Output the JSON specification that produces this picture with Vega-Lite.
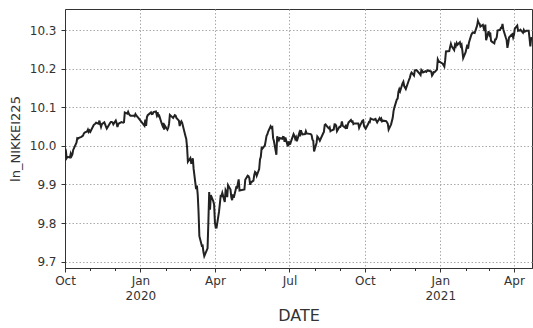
{
"$schema": "https://vega.github.io/schema/vega-lite/v6.json",
"width": 467, "height": 259,
"autosize": {"type": "none"},
"padding": {"left": 65, "top": 9, "right": 1, "bottom": 60},
"background": "white",
"config": {
  "view": {"stroke": "#333", "strokeWidth": 1},
  "axis": {"labelFont": "DejaVu Sans", "titleFont": "DejaVu Sans", "labelColor": "#333", "titleColor": "#333", "domainColor": "#333", "tickColor": "#333", "titleFontWeight": "normal", "labelFlush": false, "labelOverlap": false}
},
"data": {"values": [
{"date":"2019-10-01","ln_NIKKEI225":9.9936},{"date":"2019-10-02","ln_NIKKEI225":9.9887},{"date":"2019-10-03","ln_NIKKEI225":9.9684},{"date":"2019-10-04","ln_NIKKEI225":9.9716},{"date":"2019-10-07","ln_NIKKEI225":9.9700},{"date":"2019-10-08","ln_NIKKEI225":9.9799},{"date":"2019-10-09","ln_NIKKEI225":9.9737},{"date":"2019-10-10","ln_NIKKEI225":9.9782},{"date":"2019-10-11","ln_NIKKEI225":9.9896},{"date":"2019-10-15","ln_NIKKEI225":10.0082},{"date":"2019-10-16","ln_NIKKEI225":10.0201},{"date":"2019-10-17","ln_NIKKEI225":10.0191},{"date":"2019-10-18","ln_NIKKEI225":10.0209},{"date":"2019-10-21","ln_NIKKEI225":10.0234},{"date":"2019-10-23","ln_NIKKEI225":10.0267},{"date":"2019-10-24","ln_NIKKEI225":10.0323},{"date":"2019-10-25","ln_NIKKEI225":10.0345},{"date":"2019-10-28","ln_NIKKEI225":10.0375},{"date":"2019-10-29","ln_NIKKEI225":10.0422},{"date":"2019-10-30","ln_NIKKEI225":10.0364},{"date":"2019-10-31","ln_NIKKEI225":10.0401},
{"date":"2019-11-01","ln_NIKKEI225":10.0367},{"date":"2019-11-05","ln_NIKKEI225":10.0541},{"date":"2019-11-06","ln_NIKKEI225":10.0563},{"date":"2019-11-07","ln_NIKKEI225":10.0575},{"date":"2019-11-08","ln_NIKKEI225":10.0601},{"date":"2019-11-11","ln_NIKKEI225":10.0575},{"date":"2019-11-12","ln_NIKKEI225":10.0656},{"date":"2019-11-13","ln_NIKKEI225":10.0571},{"date":"2019-11-14","ln_NIKKEI225":10.0494},{"date":"2019-11-15","ln_NIKKEI225":10.0563},{"date":"2019-11-18","ln_NIKKEI225":10.0612},{"date":"2019-11-19","ln_NIKKEI225":10.0559},{"date":"2019-11-20","ln_NIKKEI225":10.0497},{"date":"2019-11-21","ln_NIKKEI225":10.0449},{"date":"2019-11-22","ln_NIKKEI225":10.0482},{"date":"2019-11-25","ln_NIKKEI225":10.0593},{"date":"2019-11-26","ln_NIKKEI225":10.0621},{"date":"2019-11-27","ln_NIKKEI225":10.0621},{"date":"2019-11-28","ln_NIKKEI225":10.0609},{"date":"2019-11-29","ln_NIKKEI225":10.0560},
{"date":"2019-12-02","ln_NIKKEI225":10.0660},{"date":"2019-12-03","ln_NIKKEI225":10.0596},{"date":"2019-12-04","ln_NIKKEI225":10.0491},{"date":"2019-12-05","ln_NIKKEI225":10.0562},{"date":"2019-12-06","ln_NIKKEI225":10.0585},{"date":"2019-12-09","ln_NIKKEI225":10.0618},{"date":"2019-12-10","ln_NIKKEI225":10.0609},{"date":"2019-12-11","ln_NIKKEI225":10.0601},{"date":"2019-12-12","ln_NIKKEI225":10.0616},{"date":"2019-12-13","ln_NIKKEI225":10.0868},{"date":"2019-12-16","ln_NIKKEI225":10.0838},{"date":"2019-12-17","ln_NIKKEI225":10.0886},{"date":"2019-12-18","ln_NIKKEI225":10.0831},{"date":"2019-12-19","ln_NIKKEI225":10.0801},{"date":"2019-12-20","ln_NIKKEI225":10.0781},{"date":"2019-12-23","ln_NIKKEI225":10.0783},{"date":"2019-12-24","ln_NIKKEI225":10.0787},{"date":"2019-12-25","ln_NIKKEI225":10.0767},{"date":"2019-12-26","ln_NIKKEI225":10.0827},{"date":"2019-12-27","ln_NIKKEI225":10.0790},{"date":"2019-12-30","ln_NIKKEI225":10.0714},
{"date":"2020-01-06","ln_NIKKEI225":10.0521},{"date":"2020-01-07","ln_NIKKEI225":10.0680},{"date":"2020-01-08","ln_NIKKEI225":10.0521},{"date":"2020-01-09","ln_NIKKEI225":10.0749},{"date":"2020-01-10","ln_NIKKEI225":10.0796},{"date":"2020-01-14","ln_NIKKEI225":10.0869},{"date":"2020-01-15","ln_NIKKEI225":10.0824},{"date":"2020-01-16","ln_NIKKEI225":10.0830},{"date":"2020-01-17","ln_NIKKEI225":10.0876},{"date":"2020-01-20","ln_NIKKEI225":10.0893},{"date":"2020-01-21","ln_NIKKEI225":10.0802},{"date":"2020-01-22","ln_NIKKEI225":10.0872},{"date":"2020-01-23","ln_NIKKEI225":10.0772},{"date":"2020-01-24","ln_NIKKEI225":10.0786},{"date":"2020-01-27","ln_NIKKEI225":10.0581},{"date":"2020-01-28","ln_NIKKEI225":10.0526},{"date":"2020-01-29","ln_NIKKEI225":10.0596},{"date":"2020-01-30","ln_NIKKEI225":10.0423},{"date":"2020-01-31","ln_NIKKEI225":10.0521},
{"date":"2020-02-03","ln_NIKKEI225":10.0420},{"date":"2020-02-04","ln_NIKKEI225":10.0470},{"date":"2020-02-05","ln_NIKKEI225":10.0571},{"date":"2020-02-06","ln_NIKKEI225":10.0806},{"date":"2020-02-07","ln_NIKKEI225":10.0786},{"date":"2020-02-10","ln_NIKKEI225":10.0726},{"date":"2020-02-12","ln_NIKKEI225":10.0800},{"date":"2020-02-13","ln_NIKKEI225":10.0786},{"date":"2020-02-14","ln_NIKKEI225":10.0727},{"date":"2020-02-17","ln_NIKKEI225":10.0657},{"date":"2020-02-18","ln_NIKKEI225":10.0516},{"date":"2020-02-19","ln_NIKKEI225":10.0605},{"date":"2020-02-20","ln_NIKKEI225":10.0638},{"date":"2020-02-21","ln_NIKKEI225":10.0599},{"date":"2020-02-25","ln_NIKKEI225":10.0259},{"date":"2020-02-26","ln_NIKKEI225":10.0180},{"date":"2020-02-27","ln_NIKKEI225":9.9965},{"date":"2020-02-28","ln_NIKKEI225":9.9591},
{"date":"2020-03-02","ln_NIKKEI225":9.9686},{"date":"2020-03-03","ln_NIKKEI225":9.9562},{"date":"2020-03-04","ln_NIKKEI225":9.9570},{"date":"2020-03-05","ln_NIKKEI225":9.9679},{"date":"2020-03-06","ln_NIKKEI225":9.9403},{"date":"2020-03-09","ln_NIKKEI225":9.8883},{"date":"2020-03-10","ln_NIKKEI225":9.8969},{"date":"2020-03-11","ln_NIKKEI225":9.8739},{"date":"2020-03-12","ln_NIKKEI225":9.8288},{"date":"2020-03-13","ln_NIKKEI225":9.7660},{"date":"2020-03-16","ln_NIKKEI225":9.7411},{"date":"2020-03-17","ln_NIKKEI225":9.7417},{"date":"2020-03-18","ln_NIKKEI225":9.7248},{"date":"2020-03-19","ln_NIKKEI225":9.7143},{"date":"2020-03-23","ln_NIKKEI225":9.7343},{"date":"2020-03-24","ln_NIKKEI225":9.8032},{"date":"2020-03-25","ln_NIKKEI225":9.8806},{"date":"2020-03-26","ln_NIKKEI225":9.8344},{"date":"2020-03-27","ln_NIKKEI225":9.8725},{"date":"2020-03-30","ln_NIKKEI225":9.8566},{"date":"2020-03-31","ln_NIKKEI225":9.8478},
{"date":"2020-04-01","ln_NIKKEI225":9.8018},{"date":"2020-04-02","ln_NIKKEI225":9.7880},{"date":"2020-04-03","ln_NIKKEI225":9.7881},{"date":"2020-04-06","ln_NIKKEI225":9.8296},{"date":"2020-04-07","ln_NIKKEI225":9.8496},{"date":"2020-04-08","ln_NIKKEI225":9.8706},{"date":"2020-04-09","ln_NIKKEI225":9.8702},{"date":"2020-04-10","ln_NIKKEI225":9.8781},{"date":"2020-04-13","ln_NIKKEI225":9.8545},{"date":"2020-04-14","ln_NIKKEI225":9.8853},{"date":"2020-04-15","ln_NIKKEI225":9.8808},{"date":"2020-04-16","ln_NIKKEI225":9.8674},{"date":"2020-04-17","ln_NIKKEI225":9.8984},{"date":"2020-04-20","ln_NIKKEI225":9.8868},{"date":"2020-04-21","ln_NIKKEI225":9.8669},{"date":"2020-04-22","ln_NIKKEI225":9.8594},{"date":"2020-04-23","ln_NIKKEI225":9.8746},{"date":"2020-04-24","ln_NIKKEI225":9.8659},{"date":"2020-04-27","ln_NIKKEI225":9.8927},{"date":"2020-04-28","ln_NIKKEI225":9.8920},{"date":"2020-04-30","ln_NIKKEI225":9.9131},
{"date":"2020-05-01","ln_NIKKEI225":9.8843},{"date":"2020-05-07","ln_NIKKEI225":9.8871},{"date":"2020-05-08","ln_NIKKEI225":9.9124},{"date":"2020-05-11","ln_NIKKEI225":9.9228},{"date":"2020-05-12","ln_NIKKEI225":9.9216},{"date":"2020-05-13","ln_NIKKEI225":9.9168},{"date":"2020-05-14","ln_NIKKEI225":9.8993},{"date":"2020-05-15","ln_NIKKEI225":9.9053},{"date":"2020-05-18","ln_NIKKEI225":9.9101},{"date":"2020-05-19","ln_NIKKEI225":9.9248},{"date":"2020-05-20","ln_NIKKEI225":9.9326},{"date":"2020-05-21","ln_NIKKEI225":9.9306},{"date":"2020-05-22","ln_NIKKEI225":9.9227},{"date":"2020-05-25","ln_NIKKEI225":9.9399},{"date":"2020-05-26","ln_NIKKEI225":9.9651},{"date":"2020-05-27","ln_NIKKEI225":9.9720},{"date":"2020-05-28","ln_NIKKEI225":9.9950},{"date":"2020-05-29","ln_NIKKEI225":9.9933},
{"date":"2020-06-01","ln_NIKKEI225":10.0017},{"date":"2020-06-02","ln_NIKKEI225":10.0136},{"date":"2020-06-03","ln_NIKKEI225":10.0264},{"date":"2020-06-04","ln_NIKKEI225":10.0300},{"date":"2020-06-05","ln_NIKKEI225":10.0374},{"date":"2020-06-08","ln_NIKKEI225":10.0510},{"date":"2020-06-09","ln_NIKKEI225":10.0472},{"date":"2020-06-10","ln_NIKKEI225":10.0487},{"date":"2020-06-11","ln_NIKKEI225":10.0201},{"date":"2020-06-12","ln_NIKKEI225":10.0126},{"date":"2020-06-15","ln_NIKKEI225":9.9772},{"date":"2020-06-16","ln_NIKKEI225":10.0250},{"date":"2020-06-17","ln_NIKKEI225":10.0194},{"date":"2020-06-18","ln_NIKKEI225":10.0149},{"date":"2020-06-19","ln_NIKKEI225":10.0204},{"date":"2020-06-22","ln_NIKKEI225":10.0185},{"date":"2020-06-23","ln_NIKKEI225":10.0235},{"date":"2020-06-24","ln_NIKKEI225":10.0229},{"date":"2020-06-25","ln_NIKKEI225":10.0106},{"date":"2020-06-26","ln_NIKKEI225":10.0218},{"date":"2020-06-29","ln_NIKKEI225":9.9986},{"date":"2020-06-30","ln_NIKKEI225":10.0118},
{"date":"2020-07-01","ln_NIKKEI225":10.0044},{"date":"2020-07-02","ln_NIKKEI225":10.0055},{"date":"2020-07-03","ln_NIKKEI225":10.0126},{"date":"2020-07-06","ln_NIKKEI225":10.0307},{"date":"2020-07-07","ln_NIKKEI225":10.0263},{"date":"2020-07-08","ln_NIKKEI225":10.0185},{"date":"2020-07-09","ln_NIKKEI225":10.0225},{"date":"2020-07-10","ln_NIKKEI225":10.0119},{"date":"2020-07-13","ln_NIKKEI225":10.0338},{"date":"2020-07-14","ln_NIKKEI225":10.0251},{"date":"2020-07-15","ln_NIKKEI225":10.0408},{"date":"2020-07-16","ln_NIKKEI225":10.0331},{"date":"2020-07-17","ln_NIKKEI225":10.0299},{"date":"2020-07-20","ln_NIKKEI225":10.0308},{"date":"2020-07-21","ln_NIKKEI225":10.0382},{"date":"2020-07-22","ln_NIKKEI225":10.0323},{"date":"2020-07-27","ln_NIKKEI225":10.0307},{"date":"2020-07-28","ln_NIKKEI225":10.0281},{"date":"2020-07-29","ln_NIKKEI225":10.0166},{"date":"2020-07-30","ln_NIKKEI225":10.0140},{"date":"2020-07-31","ln_NIKKEI225":9.9855},
{"date":"2020-08-03","ln_NIKKEI225":10.0077},{"date":"2020-08-04","ln_NIKKEI225":10.0245},{"date":"2020-08-05","ln_NIKKEI225":10.0219},{"date":"2020-08-06","ln_NIKKEI225":10.0176},{"date":"2020-08-07","ln_NIKKEI225":10.0137},{"date":"2020-08-11","ln_NIKKEI225":10.0323},{"date":"2020-08-12","ln_NIKKEI225":10.0364},{"date":"2020-08-13","ln_NIKKEI225":10.0541},{"date":"2020-08-14","ln_NIKKEI225":10.0558},{"date":"2020-08-17","ln_NIKKEI225":10.0475},{"date":"2020-08-18","ln_NIKKEI225":10.0455},{"date":"2020-08-19","ln_NIKKEI225":10.0481},{"date":"2020-08-20","ln_NIKKEI225":10.0381},{"date":"2020-08-21","ln_NIKKEI225":10.0398},{"date":"2020-08-24","ln_NIKKEI225":10.0427},{"date":"2020-08-25","ln_NIKKEI225":10.0561},{"date":"2020-08-26","ln_NIKKEI225":10.0558},{"date":"2020-08-27","ln_NIKKEI225":10.0523},{"date":"2020-08-28","ln_NIKKEI225":10.0382},{"date":"2020-08-31","ln_NIKKEI225":10.0494},
{"date":"2020-09-01","ln_NIKKEI225":10.0493},{"date":"2020-09-02","ln_NIKKEI225":10.0540},{"date":"2020-09-03","ln_NIKKEI225":10.0633},{"date":"2020-09-04","ln_NIKKEI225":10.0522},{"date":"2020-09-07","ln_NIKKEI225":10.0472},{"date":"2020-09-08","ln_NIKKEI225":10.0551},{"date":"2020-09-09","ln_NIKKEI225":10.0447},{"date":"2020-09-10","ln_NIKKEI225":10.0535},{"date":"2020-09-11","ln_NIKKEI225":10.0608},{"date":"2020-09-14","ln_NIKKEI225":10.0673},{"date":"2020-09-15","ln_NIKKEI225":10.0629},{"date":"2020-09-16","ln_NIKKEI225":10.0637},{"date":"2020-09-17","ln_NIKKEI225":10.0570},{"date":"2020-09-18","ln_NIKKEI225":10.0588},{"date":"2020-09-23","ln_NIKKEI225":10.0582},{"date":"2020-09-24","ln_NIKKEI225":10.0471},{"date":"2020-09-25","ln_NIKKEI225":10.0521},{"date":"2020-09-28","ln_NIKKEI225":10.0653},{"date":"2020-09-29","ln_NIKKEI225":10.0665},{"date":"2020-09-30","ln_NIKKEI225":10.0513},
{"date":"2020-10-02","ln_NIKKEI225":10.0446},{"date":"2020-10-05","ln_NIKKEI225":10.0568},{"date":"2020-10-06","ln_NIKKEI225":10.0620},{"date":"2020-10-07","ln_NIKKEI225":10.0615},{"date":"2020-10-08","ln_NIKKEI225":10.0710},{"date":"2020-10-09","ln_NIKKEI225":10.0699},{"date":"2020-10-12","ln_NIKKEI225":10.0673},{"date":"2020-10-13","ln_NIKKEI225":10.0691},{"date":"2020-10-14","ln_NIKKEI225":10.0702},{"date":"2020-10-15","ln_NIKKEI225":10.0651},{"date":"2020-10-16","ln_NIKKEI225":10.0610},{"date":"2020-10-19","ln_NIKKEI225":10.0721},{"date":"2020-10-20","ln_NIKKEI225":10.0676},{"date":"2020-10-21","ln_NIKKEI225":10.0707},{"date":"2020-10-22","ln_NIKKEI225":10.0637},{"date":"2020-10-23","ln_NIKKEI225":10.0655},{"date":"2020-10-26","ln_NIKKEI225":10.0646},{"date":"2020-10-27","ln_NIKKEI225":10.0642},{"date":"2020-10-28","ln_NIKKEI225":10.0614},{"date":"2020-10-29","ln_NIKKEI225":10.0576},{"date":"2020-10-30","ln_NIKKEI225":10.0423},
{"date":"2020-11-02","ln_NIKKEI225":10.0560},{"date":"2020-11-04","ln_NIKKEI225":10.0730},{"date":"2020-11-05","ln_NIKKEI225":10.0902},{"date":"2020-11-06","ln_NIKKEI225":10.0993},{"date":"2020-11-09","ln_NIKKEI225":10.1202},{"date":"2020-11-10","ln_NIKKEI225":10.1228},{"date":"2020-11-11","ln_NIKKEI225":10.1405},{"date":"2020-11-12","ln_NIKKEI225":10.1472},{"date":"2020-11-13","ln_NIKKEI225":10.1419},{"date":"2020-11-16","ln_NIKKEI225":10.1623},{"date":"2020-11-17","ln_NIKKEI225":10.1664},{"date":"2020-11-18","ln_NIKKEI225":10.1553},{"date":"2020-11-19","ln_NIKKEI225":10.1516},{"date":"2020-11-20","ln_NIKKEI225":10.1475},{"date":"2020-11-24","ln_NIKKEI225":10.1722},{"date":"2020-11-25","ln_NIKKEI225":10.1772},{"date":"2020-11-26","ln_NIKKEI225":10.1863},{"date":"2020-11-27","ln_NIKKEI225":10.1904},{"date":"2020-11-30","ln_NIKKEI225":10.1824},
{"date":"2020-12-01","ln_NIKKEI225":10.1957},{"date":"2020-12-02","ln_NIKKEI225":10.1962},{"date":"2020-12-03","ln_NIKKEI225":10.1965},{"date":"2020-12-04","ln_NIKKEI225":10.1943},{"date":"2020-12-07","ln_NIKKEI225":10.1867},{"date":"2020-12-08","ln_NIKKEI225":10.1838},{"date":"2020-12-09","ln_NIKKEI225":10.1968},{"date":"2020-12-10","ln_NIKKEI225":10.1945},{"date":"2020-12-11","ln_NIKKEI225":10.1906},{"date":"2020-12-14","ln_NIKKEI225":10.1936},{"date":"2020-12-15","ln_NIKKEI225":10.1920},{"date":"2020-12-16","ln_NIKKEI225":10.1945},{"date":"2020-12-17","ln_NIKKEI225":10.1964},{"date":"2020-12-18","ln_NIKKEI225":10.1948},{"date":"2020-12-21","ln_NIKKEI225":10.1929},{"date":"2020-12-22","ln_NIKKEI225":10.1825},{"date":"2020-12-23","ln_NIKKEI225":10.1859},{"date":"2020-12-24","ln_NIKKEI225":10.1912},{"date":"2020-12-25","ln_NIKKEI225":10.1909},{"date":"2020-12-28","ln_NIKKEI225":10.1982},{"date":"2020-12-29","ln_NIKKEI225":10.2244},{"date":"2020-12-30","ln_NIKKEI225":10.2199},
{"date":"2021-01-04","ln_NIKKEI225":10.2131},{"date":"2021-01-05","ln_NIKKEI225":10.2095},{"date":"2021-01-06","ln_NIKKEI225":10.2057},{"date":"2021-01-07","ln_NIKKEI225":10.2216},{"date":"2021-01-08","ln_NIKKEI225":10.2449},{"date":"2021-01-12","ln_NIKKEI225":10.2458},{"date":"2021-01-13","ln_NIKKEI225":10.2561},{"date":"2021-01-14","ln_NIKKEI225":10.2646},{"date":"2021-01-15","ln_NIKKEI225":10.2583},{"date":"2021-01-18","ln_NIKKEI225":10.2486},{"date":"2021-01-19","ln_NIKKEI225":10.2623},{"date":"2021-01-20","ln_NIKKEI225":10.2585},{"date":"2021-01-21","ln_NIKKEI225":10.2666},{"date":"2021-01-22","ln_NIKKEI225":10.2622},{"date":"2021-01-25","ln_NIKKEI225":10.2689},{"date":"2021-01-26","ln_NIKKEI225":10.2593},{"date":"2021-01-27","ln_NIKKEI225":10.2624},{"date":"2021-01-28","ln_NIKKEI225":10.2470},{"date":"2021-01-29","ln_NIKKEI225":10.2279},
{"date":"2021-02-01","ln_NIKKEI225":10.2432},{"date":"2021-02-02","ln_NIKKEI225":10.2528},{"date":"2021-02-03","ln_NIKKEI225":10.2627},{"date":"2021-02-04","ln_NIKKEI225":10.2521},{"date":"2021-02-05","ln_NIKKEI225":10.2674},{"date":"2021-02-08","ln_NIKKEI225":10.2883},{"date":"2021-02-09","ln_NIKKEI225":10.2923},{"date":"2021-02-10","ln_NIKKEI225":10.2942},{"date":"2021-02-12","ln_NIKKEI225":10.2928},{"date":"2021-02-15","ln_NIKKEI225":10.3118},{"date":"2021-02-16","ln_NIKKEI225":10.3244},{"date":"2021-02-17","ln_NIKKEI225":10.3186},{"date":"2021-02-18","ln_NIKKEI225":10.3168},{"date":"2021-02-19","ln_NIKKEI225":10.3096},{"date":"2021-02-22","ln_NIKKEI225":10.3141},{"date":"2021-02-24","ln_NIKKEI225":10.2979},{"date":"2021-02-25","ln_NIKKEI225":10.3145},{"date":"2021-02-26","ln_NIKKEI225":10.2738},
{"date":"2021-03-01","ln_NIKKEI225":10.2976},{"date":"2021-03-02","ln_NIKKEI225":10.2889},{"date":"2021-03-03","ln_NIKKEI225":10.2941},{"date":"2021-03-04","ln_NIKKEI225":10.2726},{"date":"2021-03-05","ln_NIKKEI225":10.2703},{"date":"2021-03-08","ln_NIKKEI225":10.2661},{"date":"2021-03-09","ln_NIKKEI225":10.2760},{"date":"2021-03-10","ln_NIKKEI225":10.2763},{"date":"2021-03-11","ln_NIKKEI225":10.2823},{"date":"2021-03-12","ln_NIKKEI225":10.2994},{"date":"2021-03-15","ln_NIKKEI225":10.3011},{"date":"2021-03-16","ln_NIKKEI225":10.3063},{"date":"2021-03-17","ln_NIKKEI225":10.3061},{"date":"2021-03-18","ln_NIKKEI225":10.3161},{"date":"2021-03-19","ln_NIKKEI225":10.3020},{"date":"2021-03-22","ln_NIKKEI225":10.2810},{"date":"2021-03-23","ln_NIKKEI225":10.2749},{"date":"2021-03-24","ln_NIKKEI225":10.2544},{"date":"2021-03-25","ln_NIKKEI225":10.2657},{"date":"2021-03-26","ln_NIKKEI225":10.2811},{"date":"2021-03-29","ln_NIKKEI225":10.2882},{"date":"2021-03-30","ln_NIKKEI225":10.2898},{"date":"2021-03-31","ln_NIKKEI225":10.2812},
{"date":"2021-04-01","ln_NIKKEI225":10.2883},{"date":"2021-04-02","ln_NIKKEI225":10.3040},{"date":"2021-04-05","ln_NIKKEI225":10.3119},{"date":"2021-04-06","ln_NIKKEI225":10.2988},{"date":"2021-04-07","ln_NIKKEI225":10.2999},{"date":"2021-04-08","ln_NIKKEI225":10.2992},{"date":"2021-04-09","ln_NIKKEI225":10.3012},{"date":"2021-04-12","ln_NIKKEI225":10.2934},{"date":"2021-04-13","ln_NIKKEI225":10.3006},{"date":"2021-04-14","ln_NIKKEI225":10.2962},{"date":"2021-04-15","ln_NIKKEI225":10.2969},{"date":"2021-04-16","ln_NIKKEI225":10.2983},{"date":"2021-04-19","ln_NIKKEI225":10.2984},{"date":"2021-04-20","ln_NIKKEI225":10.2785},{"date":"2021-04-21","ln_NIKKEI225":10.2579},{"date":"2021-04-22","ln_NIKKEI225":10.2815},{"date":"2021-04-23","ln_NIKKEI225":10.2758}
]},
"layer": [
  {
    "mark": {"type": "line", "color": "#222222", "strokeWidth": 2, "clip": true},
    "encoding": {
      "x": {
        "field": "date", "type": "temporal",
        "scale": {"type": "utc", "domain": [{"year": 2019, "month": 10, "date": 1, "utc": true}, {"year": 2021, "month": 4, "date": 23, "utc": true}]},
        "axis": {
          "orient": "bottom", "title": "DATE", "titleFontSize": 16, "titlePadding": 6,
          "labelFontSize": 12, "labelPadding": 3, "labelAngle": 0, "labelAlign": "center", "labelBaseline": "top", "labelLineHeight": 15,
          "tickSize": 4, "grid": true, "gridColor": "#aaaaaa", "gridDash": [1.5, 2], "gridWidth": 1,
          "values": [
            {"year": 2019, "month": 10, "date": 1, "utc": true},
            {"year": 2020, "month": 1, "date": 1, "utc": true},
            {"year": 2020, "month": 4, "date": 1, "utc": true},
            {"year": 2020, "month": 7, "date": 1, "utc": true},
            {"year": 2020, "month": 10, "date": 1, "utc": true},
            {"year": 2021, "month": 1, "date": 1, "utc": true},
            {"year": 2021, "month": 4, "date": 1, "utc": true}
          ],
          "labelExpr": "utcFormat(datum.value, '%m') == '01' ? [utcFormat(datum.value, '%b'), utcFormat(datum.value, '%Y')] : utcFormat(datum.value, '%b')"
        }
      },
      "y": {
        "field": "ln_NIKKEI225", "type": "quantitative",
        "scale": {"domain": [9.6835, 10.355], "nice": false, "zero": false},
        "axis": {
          "title": "ln_NIKKEI225", "titleFontSize": 13, "titlePadding": 7,
          "labelFontSize": 12, "labelPadding": 5, "tickSize": 4, "format": ".1f",
          "values": [9.7, 9.8, 9.9, 10.0, 10.1, 10.2, 10.3],
          "grid": true, "gridColor": "#aaaaaa", "gridDash": [1.5, 2], "gridWidth": 1
        }
      }
    }
  },
  {
    "mark": {"type": "rule", "opacity": 0},
    "encoding": {
      "x": {
        "field": "date", "type": "temporal",
        "axis": {
          "orient": "bottom", "title": null, "labels": false, "grid": false, "domain": false, "tickSize": 2.5,
          "values": [
            {"year": 2019, "month": 11, "date": 1, "utc": true},
            {"year": 2019, "month": 12, "date": 1, "utc": true},
            {"year": 2020, "month": 2, "date": 1, "utc": true},
            {"year": 2020, "month": 3, "date": 1, "utc": true},
            {"year": 2020, "month": 5, "date": 1, "utc": true},
            {"year": 2020, "month": 6, "date": 1, "utc": true},
            {"year": 2020, "month": 8, "date": 1, "utc": true},
            {"year": 2020, "month": 9, "date": 1, "utc": true},
            {"year": 2020, "month": 11, "date": 1, "utc": true},
            {"year": 2020, "month": 12, "date": 1, "utc": true},
            {"year": 2021, "month": 2, "date": 1, "utc": true},
            {"year": 2021, "month": 3, "date": 1, "utc": true}
          ]
        }
      }
    }
  }
],
"resolve": {"axis": {"x": "independent"}}
}
